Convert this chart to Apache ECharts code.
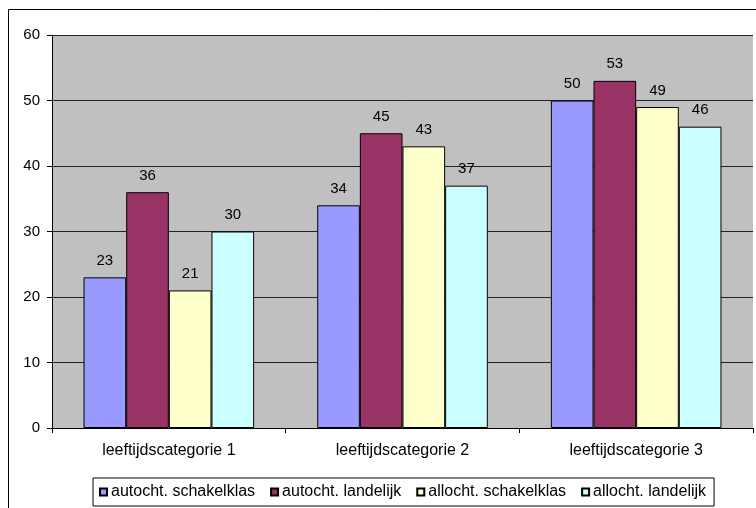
<!DOCTYPE html>
<html>
<head>
<meta charset="utf-8">
<script src="https://cdn.jsdelivr.net/npm/echarts@6/dist/echarts.min.js"></script>
<style>html,body{margin:0;padding:0;background:#fff;}#c{width:756px;height:508px;}</style>
</head>
<body>
<div id="c"></div>
<script>
const categories = ['leeftijdscategorie 1', 'leeftijdscategorie 2', 'leeftijdscategorie 3'];
const seriesNames = ['autocht. schakelklas', 'autocht. landelijk', 'allocht. schakelklas', 'allocht. landelijk'];
const autochtSchakelklas = [23, 34, 50];
const autochtLandelijk = [36, 45, 53];
const allochtSchakelklas = [21, 43, 49];
const allochtLandelijk = [30, 37, 46];
const yTicks = [0, 10, 20, 30, 40, 50, 60];

const colors = ['#9999FF', '#993366', '#FFFFCC', '#CCFFFF'];
const values = [autochtSchakelklas, autochtLandelijk, allochtSchakelklas, allochtLandelijk];
const font = 'Liberation Sans, Arial, sans-serif';

const chart = echarts.init(document.getElementById('c'), null, {renderer: 'canvas'});
chart.setOption({
  animation: false,
  backgroundColor: '#fff',
  textStyle: {fontFamily: font},
  graphic: [{
    type: 'rect',
    shape: {x: 8.5, y: 9.5, width: 900, height: 700},
    style: {fill: 'none', stroke: '#000', lineWidth: 1},
    silent: true, z: 0
  }],
  grid: {
    left: 52, right: 3, top: 35, bottom: 80,
    show: true, backgroundColor: '#C0C0C0', borderWidth: 0
  },
  legend: {
    left: 93, top: 478,
    padding: [6, 8, 6, 6],
    itemWidth: 7, itemHeight: 7, itemGap: 15,
    borderColor: '#000', borderWidth: 1, backgroundColor: '#fff',
    textStyle: {fontSize: 16, color: '#000', fontFamily: font, padding: [0,0,0,-1]},
    data: seriesNames,
    icon: 'rect'
  },
  xAxis: {
    type: 'category',
    data: categories,
    axisLine: {lineStyle: {color: '#000', width: 1}},
    axisTick: {show: true, alignWithLabel: false, length: 5, lineStyle: {color: '#000'}},
    axisLabel: {fontSize: 16, color: '#000', margin: 15, fontFamily: font},
    splitLine: {show: false}
  },
  yAxis: {
    type: 'value',
    min: 0, max: 60, interval: 10,
    axisLine: {show: true, lineStyle: {color: '#000', width: 1}},
    axisTick: {show: true, length: 5, lineStyle: {color: '#000'}},
    axisLabel: {fontSize: 15, color: '#000', margin: 12, fontFamily: font,
      formatter: v => yTicks.includes(v) ? String(v) : ''},
    splitLine: {show: true, lineStyle: {color: '#222', width: 1}}
  },
  series: seriesNames.map((name, i) => ({
    name: name,
    type: 'bar',
    data: values[i],
    barGap: '0%',
    barCategoryGap: '27%',
    itemStyle: {color: colors[i], borderColor: '#000', borderWidth: 1},
    label: {show: true, position: 'top', distance: 9, fontSize: 15, color: '#000', fontFamily: font},
    emphasis: {disabled: true}
  }))
});
</script>
</body>
</html>
